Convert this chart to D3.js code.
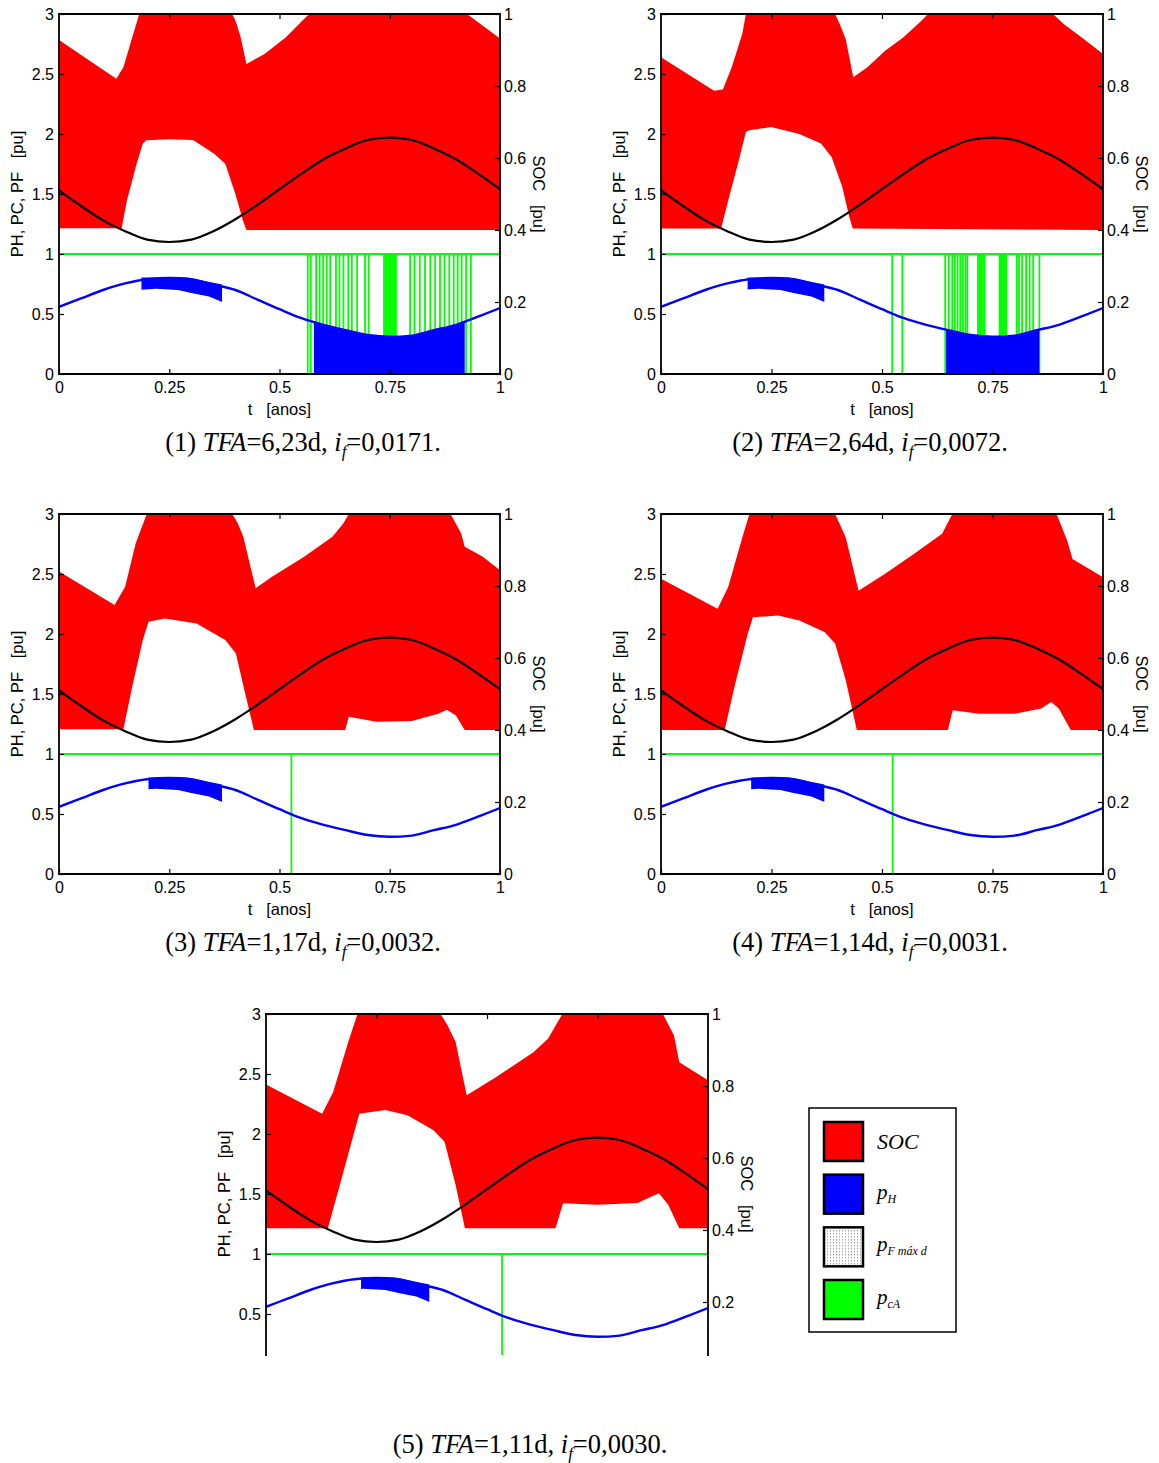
<!DOCTYPE html>
<html>
<head>
<meta charset="utf-8">
<script src="https://cdn.jsdelivr.net/npm/d3@7"></script>
<style>
  body { margin: 0; background: #fff; }
  svg { display: block; }
</style>
</head>
<body>
<svg id="chart" width="1159" height="1463"></svg>
<script>
// time grid (years) and the smooth curves shared by all five cases
const tGrid   = [0, 0.05, 0.1, 0.15, 0.2, 0.25, 0.3, 0.35, 0.4, 0.45, 0.5, 0.55, 0.6, 0.65, 0.7, 0.75, 0.8, 0.85, 0.9, 0.95, 1];
const blackPu = [1.53, 1.40, 1.28, 1.19, 1.12, 1.10, 1.12, 1.19, 1.29, 1.41, 1.54, 1.67, 1.79, 1.88, 1.95, 1.97, 1.95, 1.88, 1.79, 1.67, 1.54];
const bluePu  = [0.56, 0.63, 0.70, 0.755, 0.79, 0.80, 0.79, 0.745, 0.70, 0.62, 0.54, 0.465, 0.41, 0.365, 0.325, 0.31, 0.32, 0.365, 0.41, 0.478, 0.55];

// SOC band (red), upper and lower envelopes, [t, soc]
const socUpper1 = [[0,0.928],[0.13,0.82],[0.146,0.852],[0.166,0.935],[0.182,1],[0.393,1],[0.402,0.975],[0.412,0.935],[0.425,0.861],[0.466,0.889],[0.514,0.935],[0.563,0.995],[0.571,1],[0.925,1],[1,0.932]];
const socLower1 = [[0,0.405],[0.142,0.405],[0.154,0.482],[0.174,0.575],[0.19,0.64],[0.198,0.649],[0.25,0.652],[0.304,0.65],[0.352,0.612],[0.377,0.584],[0.40,0.50],[0.417,0.427],[0.425,0.40],[1,0.40]];
const socUpper2 = [[0,0.88],[0.12,0.787],[0.14,0.79],[0.16,0.852],[0.184,0.945],[0.192,1],[0.394,1],[0.405,0.97],[0.418,0.93],[0.435,0.824],[0.467,0.852],[0.507,0.898],[0.548,0.935],[0.588,0.98],[0.604,1],[0.887,1],[0.911,0.972],[0.952,0.935],[1,0.889]];
const socLower2 = [[0,0.404],[0.136,0.404],[0.152,0.482],[0.176,0.593],[0.192,0.672],[0.2,0.677],[0.249,0.686],[0.313,0.667],[0.362,0.64],[0.386,0.603],[0.41,0.52],[0.426,0.436],[0.434,0.404],[1,0.40]];
const socUpper3 = [[0,0.84],[0.126,0.747],[0.15,0.798],[0.174,0.919],[0.199,1],[0.393,1],[0.405,0.975],[0.418,0.937],[0.434,0.854],[0.446,0.794],[0.483,0.826],[0.556,0.881],[0.62,0.937],[0.645,0.974],[0.657,1],[0.888,1],[0.912,0.946],[0.92,0.909],[0.961,0.881],[1,0.844]];
const socLower3 = [[0,0.402],[0.146,0.402],[0.166,0.52],[0.19,0.65],[0.203,0.701],[0.24,0.71],[0.312,0.696],[0.377,0.65],[0.401,0.613],[0.422,0.502],[0.442,0.40],[0.649,0.40],[0.657,0.437],[0.72,0.423],[0.80,0.425],[0.86,0.445],[0.88,0.456],[0.90,0.44],[0.92,0.40],[1,0.40]];
const socUpper4 = [[0,0.82],[0.128,0.737],[0.152,0.797],[0.184,0.935],[0.2,1],[0.394,1],[0.405,0.97],[0.418,0.935],[0.447,0.787],[0.507,0.834],[0.572,0.889],[0.636,0.945],[0.657,0.995],[0.66,1],[0.895,1],[0.919,0.926],[0.931,0.875],[1,0.824]];
const socLower4 = [[0,0.40],[0.144,0.40],[0.168,0.529],[0.196,0.667],[0.208,0.713],[0.265,0.718],[0.313,0.704],[0.37,0.672],[0.394,0.64],[0.418,0.538],[0.443,0.40],[0.649,0.40],[0.66,0.455],[0.72,0.445],[0.80,0.445],[0.86,0.46],[0.883,0.478],[0.90,0.46],[0.927,0.40],[1,0.40]];
const socUpper5 = [[0,0.804],[0.127,0.723],[0.152,0.783],[0.186,0.922],[0.207,1],[0.395,1],[0.41,0.97],[0.429,0.922],[0.454,0.774],[0.521,0.825],[0.605,0.894],[0.638,0.931],[0.668,0.995],[0.67,1],[0.898,1],[0.923,0.94],[0.935,0.866],[1,0.816]];
const socLower5 = [[0,0.405],[0.14,0.405],[0.169,0.534],[0.211,0.723],[0.27,0.733],[0.32,0.719],[0.379,0.677],[0.404,0.645],[0.429,0.525],[0.45,0.405],[0.655,0.405],[0.672,0.474],[0.75,0.47],[0.84,0.475],[0.889,0.502],[0.91,0.47],[0.935,0.405],[1,0.405]];

// thick pH block near the maximum, [t, pu]
const blockTop    = [[0.18,0.805],[0.29,0.805],[0.33,0.775],[0.37,0.745]];
const blockBottom = [[0.18,0.70],[0.22,0.71],[0.27,0.70],[0.30,0.675],[0.34,0.645],[0.37,0.60]];
const blockStart  = [0.187, 0.196, 0.203, 0.204, 0.215];
const blockEnd    = 0.37;

// pH filled down to zero (cases 1 and 2 only)
const fillSpan = [[0.578, 0.92], [0.645, 0.856], null, null, null];

// pcA switching instants
const greenT1 = [0.564, 0.571, 0.583, 0.591, 0.599, 0.607, 0.615, 0.628, 0.636, 0.645, 0.656, 0.664, 0.676, 0.694, 0.702,
                 0.737, 0.740, 0.743, 0.746, 0.749, 0.752, 0.755, 0.758, 0.761, 0.764,
                 0.796, 0.806, 0.818, 0.830, 0.842, 0.853, 0.864, 0.874, 0.885, 0.895, 0.904, 0.913, 0.923, 0.934];
const greenT2 = [0.523, 0.546, 0.643, 0.651, 0.659, 0.665, 0.671, 0.677, 0.683, 0.689, 0.693,
                 0.717, 0.720, 0.723, 0.726, 0.729, 0.732,
                 0.766, 0.769, 0.772, 0.775, 0.778, 0.781,
                 0.805, 0.810, 0.817, 0.826, 0.834, 0.842, 0.856];
const greenT3 = [0.527];
const greenT4 = [0.524];
const greenT5 = [0.534];

const tfaVals = ['6,23', '2,64', '1,17', '1,14', '1,11'];
const ifVals  = ['0,0171', '0,0072', '0,0032', '0,0031', '0,0030'];

const xTicks     = [0, 0.25, 0.5, 0.75, 1];
const leftTicks  = [0, 0.5, 1, 1.5, 2, 2.5, 3];
const rightTicks = [0, 0.2, 0.4, 0.6, 0.8, 1];

const legendLabels = [['SOC', ''], ['p', 'H'], ['p', 'F máx d'], ['p', 'cA']];
const legendFills  = ['#ff0000', '#0000ff', 'url(#dots)', '#00ff00'];

const panels = [
    {left: 59,  right: 500,  top: 14,   bottom: 374,  clipBottom: 374,  xAxis: true,  capX: 303, capY: 451},
    {left: 661, right: 1103, top: 14,   bottom: 374,  clipBottom: 374,  xAxis: true,  capX: 870, capY: 451},
    {left: 59,  right: 500,  top: 514,  bottom: 874,  clipBottom: 874,  xAxis: true,  capX: 303, capY: 951},
    {left: 661, right: 1103, top: 514,  bottom: 874,  clipBottom: 874,  xAxis: true,  capX: 870, capY: 951},
    {left: 266, right: 708,  top: 1014, bottom: 1374, clipBottom: 1355, xAxis: false, capX: 530, capY: 1453},
];
const socUppers = [socUpper1, socUpper2, socUpper3, socUpper4, socUpper5];
const socLowers = [socLower1, socLower2, socLower3, socLower4, socLower5];
const greens    = [greenT1, greenT2, greenT3, greenT4, greenT5];

const SANS  = '"Liberation Sans", Arial, sans-serif';
const SERIF = '"Liberation Serif", "Times New Roman", serif';

const svg = d3.select('#chart');
const defs = svg.append('defs');

const dots = defs.append('pattern')
    .attr('id', 'dots')
    .attr('width', 3).attr('height', 3)
    .attr('patternUnits', 'userSpaceOnUse');
dots.append('rect').attr('width', 3).attr('height', 3).attr('fill', '#fff');
dots.append('rect').attr('width', 1).attr('height', 1).attr('fill', '#777');


function band(x, y, upper, lower) {
    const pts = upper.map(d => [x(d[0]), y(d[1])])
        .concat(lower.slice().reverse().map(d => [x(d[0]), y(d[1])]));
    return d3.line()(pts) + 'Z';
}


function drawPanel(i) {
    const p = panels[i];
    const g = svg.append('g');
    const x = d3.scaleLinear([0, 1], [p.left, p.right]);
    const yL = d3.scaleLinear([0, 3], [p.bottom, p.top]);
    const yR = d3.scaleLinear([0, 1], [p.bottom, p.top]);

    defs.append('clipPath').attr('id', `plot${i}`)
        .append('rect')
        .attr('x', p.left).attr('y', p.top)
        .attr('width', p.right - p.left).attr('height', p.clipBottom - p.top);

    const plot = g.append('g').attr('clip-path', `url(#plot${i})`);

    // SOC band
    plot.append('path')
        .attr('d', band(x, yR, socUppers[i], socLowers[i]))
        .attr('fill', '#ff0000');

    // black curve
    const curvePts = tGrid.map((t, k) => [t, blackPu[k]]);
    plot.append('path')
        .datum(curvePts)
        .attr('d', d3.line().x(d => x(d[0])).y(d => yL(d[1])).curve(d3.curveMonotoneX))
        .attr('fill', 'none')
        .attr('stroke', '#000')
        .attr('stroke-width', 2.2);

    // pcA
    plot.append('line')
        .attr('x1', p.left).attr('x2', p.right)
        .attr('y1', yL(1)).attr('y2', yL(1))
        .attr('stroke', '#00ff00').attr('stroke-width', 2);
    plot.selectAll('line.sw')
        .data(greens[i])
        .join('line')
        .attr('class', 'sw')
        .attr('x1', d => x(d)).attr('x2', d => x(d))
        .attr('y1', yL(1)).attr('y2', yL(0))
        .attr('stroke', '#00ff00').attr('stroke-width', 1.8);

    // pH
    const bluePts = tGrid.map((t, k) => [t, bluePu[k]]);
    if (fillSpan[i]) {
        const [a, b] = fillSpan[i];
        defs.append('clipPath').attr('id', `fill${i}`)
            .append('rect')
            .attr('x', x(a)).attr('y', p.top)
            .attr('width', x(b) - x(a)).attr('height', p.bottom - p.top);
        plot.append('path')
            .datum(bluePts)
            .attr('clip-path', `url(#fill${i})`)
            .attr('d', d3.area().x(d => x(d[0])).y0(yL(0)).y1(d => yL(d[1])).curve(d3.curveMonotoneX))
            .attr('fill', '#0000ff');
    }
    plot.append('path')
        .datum(bluePts)
        .attr('d', d3.line().x(d => x(d[0])).y(d => yL(d[1])).curve(d3.curveMonotoneX))
        .attr('fill', 'none')
        .attr('stroke', '#0000ff')
        .attr('stroke-width', 2.4);

    defs.append('clipPath').attr('id', `blk${i}`)
        .append('rect')
        .attr('x', x(blockStart[i])).attr('y', p.top)
        .attr('width', x(blockEnd) - x(blockStart[i])).attr('height', p.bottom - p.top);
    plot.append('path')
        .attr('clip-path', `url(#blk${i})`)
        .attr('d', band(x, yL, blockTop, blockBottom))
        .attr('fill', '#0000ff');

    // axes
    const ax = g.append('g');
    const lTicks = leftTicks.filter(v => yL(v) <= p.clipBottom);
    const rTicks = rightTicks.filter(v => yR(v) <= p.clipBottom);
    const fmt = d => String(d);

    ax.append('g').attr('transform', `translate(${p.left},0)`)
        .call(d3.axisLeft(yL).tickValues(lTicks).tickFormat(fmt).tickSize(-5).tickPadding(5));
    ax.append('g').attr('transform', `translate(${p.right},0)`)
        .call(d3.axisRight(yR).tickValues(rTicks).tickFormat(fmt).tickSize(-5).tickPadding(4));
    ax.append('g').attr('transform', `translate(0,${p.top})`)
        .call(d3.axisTop(x).tickValues(xTicks.slice(1, -1)).tickFormat('').tickSize(-5));
    if (p.xAxis) {
        ax.append('g').attr('transform', `translate(0,${p.bottom})`)
            .call(d3.axisBottom(x).tickValues(xTicks).tickFormat(fmt).tickSize(-5).tickPadding(8));
    }
    ax.selectAll('.domain').remove();
    ax.selectAll('.tick line').attr('stroke', '#000').attr('stroke-width', 1.2);
    ax.selectAll('text')
        .attr('fill', '#000')
        .style('font-family', SANS)
        .style('font-size', '16px');

    // box
    const box = [[p.left, p.top, p.right, p.top],
                 [p.left, p.top, p.left, p.clipBottom],
                 [p.right, p.top, p.right, p.clipBottom]];
    if (p.xAxis) box.push([p.left, p.bottom, p.right, p.bottom]);
    g.selectAll('line.box')
        .data(box)
        .join('line')
        .attr('class', 'box')
        .attr('x1', d => d[0]).attr('y1', d => d[1])
        .attr('x2', d => d[2]).attr('y2', d => d[3])
        .attr('stroke', '#000')
        .attr('stroke-width', 1.8)
        .attr('stroke-linecap', 'square');

    // labels
    const midY = (p.top + p.bottom) / 2;
    g.append('text')
        .attr('transform', `translate(${p.left - 36},${midY}) rotate(-90)`)
        .attr('text-anchor', 'middle')
        .style('font-family', SANS).style('font-size', '16.5px')
        .text('PH, PC, PF\u00a0\u00a0\u00a0[pu]');
    g.append('text')
        .attr('transform', `translate(${p.right + 33},${midY}) rotate(90)`)
        .attr('text-anchor', 'middle')
        .style('font-family', SANS).style('font-size', '16.5px')
        .text('SOC\u00a0\u00a0\u00a0[pu]');
    if (p.xAxis) {
        g.append('text')
            .attr('x', (p.left + p.right) / 2).attr('y', p.bottom + 41)
            .attr('text-anchor', 'middle')
            .style('font-family', SANS).style('font-size', '16.5px')
            .text('t\u00a0\u00a0\u00a0[anos]');
    }

    // caption
    const cap = g.append('text')
        .attr('x', p.capX).attr('y', p.capY)
        .attr('text-anchor', 'middle')
        .style('font-family', SERIF).style('font-size', '26.5px');
    cap.append('tspan').text(`(${i + 1}) `);
    cap.append('tspan').style('font-style', 'italic').text('TFA');
    cap.append('tspan').text(`=${tfaVals[i]}d, `);
    cap.append('tspan').style('font-style', 'italic').text('i');
    cap.append('tspan').style('font-style', 'italic').style('font-size', '17px').attr('dy', 6).text('f');
    cap.append('tspan').attr('dy', -6).text(`=${ifVals[i]}.`);
}

panels.forEach((p, i) => drawPanel(i));

// legend
const leg = svg.append('g');
leg.append('rect')
    .attr('x', 809).attr('y', 1108)
    .attr('width', 147).attr('height', 224)
    .attr('fill', '#fff').attr('stroke', '#000').attr('stroke-width', 1.5);
const legY = d3.scalePoint().domain(d3.range(legendLabels.length)).range([1122, 1280]);
const items = leg.selectAll('g.item')
    .data(legendLabels)
    .join('g')
    .attr('class', 'item')
    .attr('transform', (d, k) => `translate(824,${legY(k)})`);
items.append('rect')
    .attr('width', 39).attr('height', 39)
    .attr('fill', (d, k) => legendFills[k])
    .attr('stroke', '#000').attr('stroke-width', 2.5);
const lt = items.append('text')
    .attr('x', 53).attr('y', (d, k) => k === 0 ? 27 : 24)
    .style('font-family', SERIF).style('font-style', 'italic')
    .style('font-size', d => d[1] ? '21px' : '22px');
lt.append('tspan').text(d => d[0]);
lt.filter(d => d[1]).append('tspan')
    .attr('dy', 4)
    .style('font-size', '12px')
    .text(d => d[1]);
</script>
</body>
</html>
